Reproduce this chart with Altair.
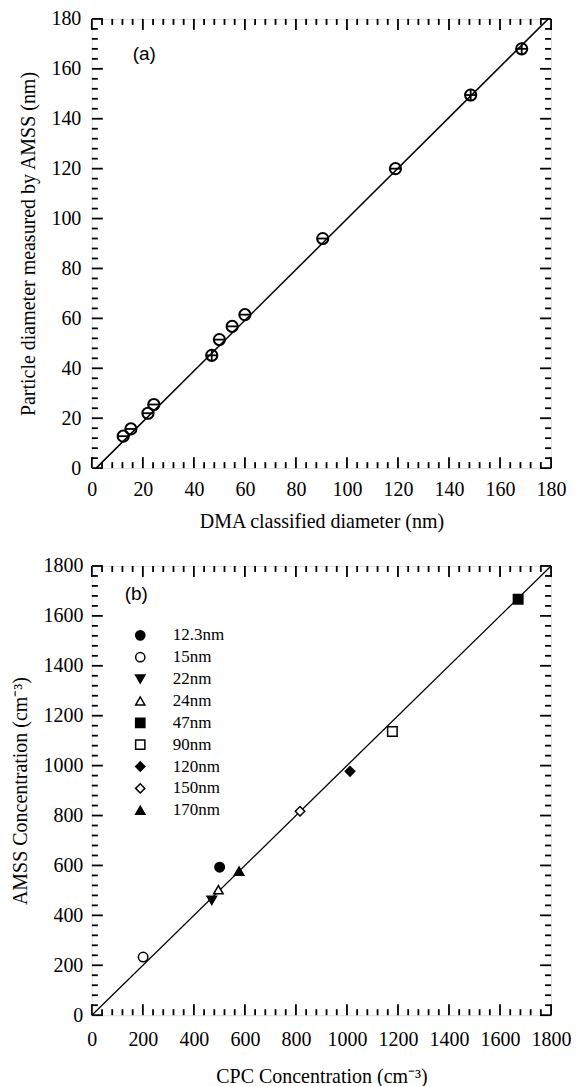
import altair as alt
import pandas as pd

# ---------------- Panel (a) data ----------------
dma_diam = [12.3, 15.3, 22.0, 24.3, 47.0, 50.0, 55.0, 60.0, 90.5, 119.0, 148.5, 168.5]
amss_diam = [12.8, 15.7, 22.0, 25.5, 45.2, 51.5, 56.8, 61.5, 92.0, 120.0, 149.5, 168.0]
diam_xerr = [2.4, 2.4, 2.4, 2.4, 2.4, 2.4, 2.4, 2.4, 2.4, 2.4, 2.4, 2.4]
diam_yerr = [0, 0, 0, 0, 2.5, 0, 0, 0, 0, 0, 2.5, 2.5]
fit_a_x = [1.7, 178.9]
fit_a_y = [0, 180]
ticks_a_major = [0, 20, 40, 60, 80, 100, 120, 140, 160, 180]
ticks_a_minor = [v for v in range(0, 181, 4) if v % 20 != 0]

# ---------------- Panel (b) data ----------------
size_labels = ["12.3nm", "15nm", "22nm", "24nm", "47nm", "90nm", "120nm", "150nm", "170nm"]
cpc_conc = [501, 201, 470, 496, 1671, 1178, 1012, 816, 577]
amss_conc = [593, 233, 460, 503, 1667, 1137, 977, 817, 577]
marker_shapes = ["circle", "circle", "triangle-down", "triangle-up", "square", "square",
                 "diamond", "diamond", "triangle-up"]
marker_fills = ["black", "white", "black", "white", "black", "white", "black", "white", "black"]
fit_b_x = [0, 1800]
fit_b_y = [0, 1800]
ticks_b_major = [0, 200, 400, 600, 800, 1000, 1200, 1400, 1600, 1800]
ticks_b_minor = [v for v in range(0, 1801, 40) if v % 200 != 0]

W, H = 460, 450
SERIF = "Liberation Serif"
SANS = "Liberation Sans"
MAJ, MIN = 11, 6


def axis(values, title, pad, tpad=12):
    return alt.Axis(values=values, title=title, ticks=False, tickSize=0, domain=False,
                    grid=False, labelFont=SERIF, labelFontSize=20, labelColor="black",
                    labelPadding=pad, titleFont=SERIF, titleFontSize=20,
                    titleFontWeight="normal", titleColor="black", titlePadding=tpad,
                    format="d", labelFlush=False)


def frame_ticks(xmaj, xmin, ymaj, ymin, sc, ax_x, ax_y):
    layers = []
    for vals, L in [(xmaj, MAJ), (xmin, MIN)]:
        base = alt.Chart(pd.DataFrame({"v": vals})).mark_rule(color="black", strokeWidth=1.8)
        xe = alt.X("v:Q", scale=sc, axis=ax_x)
        layers.append(base.encode(x=xe, y=alt.value(H), y2=alt.value(H - L)))
        layers.append(base.encode(x=xe, y=alt.value(0), y2=alt.value(L)))
    for vals, L in [(ymaj, MAJ), (ymin, MIN)]:
        base = alt.Chart(pd.DataFrame({"v": vals})).mark_rule(color="black", strokeWidth=1.8)
        ye = alt.Y("v:Q", scale=sc, axis=ax_y)
        layers.append(base.encode(y=ye, x=alt.value(0), x2=alt.value(L)))
        layers.append(base.encode(y=ye, x=alt.value(W), x2=alt.value(W - L)))
    return layers


# ---------------- Panel (a) ----------------
sc_a = alt.Scale(domain=[0, 180], nice=False, zero=False)
ax_ax = axis(ticks_a_major, "DMA classified diameter (nm)", 11)
ax_ay = axis(ticks_a_major, "Particle diameter measured by AMSS (nm)", 11)
df_a = pd.DataFrame({"x": dma_diam, "y": amss_diam, "xe": diam_xerr, "ye": diam_yerr})
df_a["x1"] = df_a.x - df_a.xe
df_a["x2"] = df_a.x + df_a.xe
df_a["y1"] = df_a.y - df_a.ye
df_a["y2"] = df_a.y + df_a.ye

fit_a = alt.Chart(pd.DataFrame({"x": fit_a_x, "y": fit_a_y})).mark_line(
    color="black", strokeWidth=1.5, clip=True).encode(
    x=alt.X("x:Q", scale=sc_a, axis=ax_ax), y=alt.Y("y:Q", scale=sc_a, axis=ax_ay))
circ_a = alt.Chart(df_a).mark_point(shape="circle", size=125, filled=False, color="black",
                                     strokeWidth=2, opacity=1).encode(
    x=alt.X("x:Q", scale=sc_a, axis=ax_ax), y=alt.Y("y:Q", scale=sc_a, axis=ax_ay))
hbar_a = alt.Chart(df_a).mark_rule(color="black", strokeWidth=1.8).encode(
    x=alt.X("x1:Q", scale=sc_a, axis=ax_ax), x2="x2:Q", y=alt.Y("y:Q", scale=sc_a, axis=ax_ay))
vbar_a = alt.Chart(df_a[df_a.ye > 0]).mark_rule(color="black", strokeWidth=1.8).encode(
    y=alt.Y("y1:Q", scale=sc_a, axis=ax_ay), y2="y2:Q", x=alt.X("x:Q", scale=sc_a, axis=ax_ax))
lab_a = alt.Chart(pd.DataFrame({"x": [16], "y": [166], "t": ["(a)"]})).mark_text(
    align="left", baseline="middle", font=SANS, fontSize=19, color="black").encode(
    x=alt.X("x:Q", scale=sc_a, axis=ax_ax), y=alt.Y("y:Q", scale=sc_a, axis=ax_ay), text="t:N")

panel_a = alt.layer(
    fit_a, hbar_a, vbar_a, circ_a, lab_a,
    *frame_ticks(ticks_a_major, ticks_a_minor, ticks_a_major, ticks_a_minor, sc_a, ax_ax, ax_ay)
).properties(width=W, height=H)

# ---------------- Panel (b) ----------------
sc_b = alt.Scale(domain=[0, 1800], nice=False, zero=False)
ax_bx = axis(ticks_b_major, "CPC Concentration (cm\u207b\u00b3)", 14, tpad=17)
ax_by = axis(ticks_b_major, "AMSS Concentration (cm\u207b\u00b3)", 9)
df_b = pd.DataFrame({"x": cpc_conc, "y": amss_conc, "label": size_labels})

fit_b = alt.Chart(pd.DataFrame({"x": fit_b_x, "y": fit_b_y})).mark_line(
    color="black", strokeWidth=1.3, clip=True).encode(
    x=alt.X("x:Q", scale=sc_b, axis=ax_bx), y=alt.Y("y:Q", scale=sc_b, axis=ax_by))

leg = alt.Legend(title=None, orient="none", legendX=40, legendY=61, padding=0,
                 labelFont=SERIF, labelFontSize=17, labelColor="black", labelOffset=24,
                 rowPadding=3.9, symbolSize=85, symbolStrokeColor="black",
                 symbolStrokeWidth=1.5, symbolOpacity=1)

pts_b = alt.Chart(df_b).mark_point(size=90, strokeWidth=1.5, opacity=1).encode(
    x=alt.X("x:Q", scale=sc_b, axis=ax_bx),
    y=alt.Y("y:Q", scale=sc_b, axis=ax_by),
    shape=alt.Shape("label:N", scale=alt.Scale(domain=size_labels, range=marker_shapes),
                    sort=size_labels, legend=leg),
    fill=alt.Fill("label:N", scale=alt.Scale(domain=size_labels, range=marker_fills),
                  sort=size_labels, legend=leg),
    stroke=alt.Stroke("label:N", scale=alt.Scale(domain=size_labels,
                                                 range=["black"] * len(size_labels)),
                      sort=size_labels, legend=leg))
lab_b = alt.Chart(pd.DataFrame({"x": [129], "y": [1688], "t": ["(b)"]})).mark_text(
    align="left", baseline="middle", font=SANS, fontSize=19, color="black").encode(
    x=alt.X("x:Q", scale=sc_b, axis=ax_bx), y=alt.Y("y:Q", scale=sc_b, axis=ax_by), text="t:N")

panel_b = alt.layer(
    fit_b, pts_b, lab_b,
    *frame_ticks(ticks_b_major, ticks_b_minor, ticks_b_major, ticks_b_minor, sc_b, ax_bx, ax_by)
).properties(width=W, height=H)

chart = alt.vconcat(panel_a, panel_b, spacing=23).resolve_legend(
    shape="independent", fill="independent", stroke="independent"
).properties(
    padding={"left": 10, "top": 7, "right": 5, "bottom": 0}
).configure_view(stroke="black", strokeWidth=2.5).configure_axis(
    labelFont=SERIF, titleFont=SERIF
).configure_legend(labelFont=SERIF).configure(background="white", font=SERIF)

chart.save("out.html", embed_options={"renderer": "svg", "actions": False})
